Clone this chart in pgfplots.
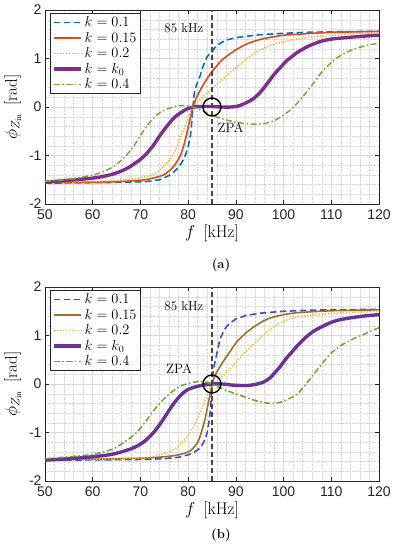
\documentclass[border=0pt]{standalone}
\usepackage{fontspec}
\usepackage{pgfplots}
\pgfplotsset{compat=1.18}
\newfontfamily\arial{Liberation Sans}

\definecolor{aBlue}{RGB}{0,114,189}
\definecolor{aRed}{RGB}{222,72,30}
\definecolor{aOrange}{RGB}{237,177,32}
\definecolor{aPurple}{RGB}{126,47,142}
\definecolor{aGreen}{RGB}{119,172,48}
\definecolor{bBlue}{RGB}{72,72,196}
\definecolor{bBrown}{RGB}{158,112,36}
\definecolor{bYellow}{RGB}{214,196,40}
\definecolor{bPurple}{RGB}{104,50,150}
\definecolor{bGreen}{RGB}{118,158,40}
\definecolor{axgray}{RGB}{38,38,38}

\pgfplotsset{
  myax/.style={
    scale only axis, width=334pt, height=194pt,
    xmin=50, xmax=120, ymin=-2, ymax=2,
    xtick={50,60,...,120}, xticklabels={50,60,70,80,90,100,110,120},
    ytick={-2,-1,0,1,2}, yticklabels={-2,-1,0,1,2},
    minor x tick num=4, minor y tick num=4,
    grid=both,
    major grid style={color=black!15, line width=0.5pt},
    minor grid style={color=black!16, densely dotted, line width=0.4pt},
    tick align=inside, major tick length=4pt, minor tick length=0pt,
    tick style={axgray, line width=0.5pt},
    axis line style={axgray, line width=0.6pt},
    ticklabel style={font=\arial\fontsize{14}{14}\selectfont, text=axgray},
    xticklabel style={yshift=-2pt},
    xlabel={$f$\ \,[kHz]},
    ylabel={$\phi_{Z_{\mathrm{in}}}$\ \,[rad]},
    label style={font=\fontsize{17}{17}\selectfont},
    xlabel style={at={(axis description cs:0.5,-0.152)}, anchor=center},
    ylabel style={at={(axis description cs:-0.097,0.5)}, anchor=center},
    legend style={at={(axis description cs:0.015,0.985)}, anchor=north west,
      draw=axgray, line width=0.5pt, fill=white,
      font=\fontsize{14}{16}\selectfont, row sep=0pt,
      inner xsep=2pt, inner ysep=1.5pt},
    legend cell align=left,
    legend image code/.code={\draw[#1] plot coordinates {(0cm,0cm) (0.95cm,0cm)};},
    every axis plot/.append style={line join=round},
  },
  dsh/.style={line width=1.6pt, dash pattern=on 6.5pt off 3.5pt},
  sol/.style={line width=1.6pt, smooth},
  dot/.style={line width=1.6pt, dash pattern=on 1.2pt off 1.8pt, smooth},
  thk/.style={line width=3.4pt, smooth},
  dd/.style={line width=1.5pt, dash pattern=on 6pt off 2.5pt on 1.5pt off 2.5pt, smooth},
  vline/.style={black!72, line width=1.5pt, dash pattern=on 5pt off 3pt, forget plot},
  zpa/.style={only marks, mark=o, mark size=9pt, black, line width=1.4pt, forget plot},
}

\begin{document}
\begin{tikzpicture}
\useasboundingbox (0pt,0pt) rectangle (395pt,-550pt);

% ---------------- (a) ----------------
\begin{axis}[myax, at={(45pt,-204pt)}, anchor=south west]
\addplot[aBlue, dsh] coordinates {
(50,-1.57) (55,-1.565) (60,-1.56) (65,-1.555) (70,-1.54) (72,-1.53) (74,-1.50)
(75,-1.46) (76,-1.41) (77,-1.34) (78,-1.24) (78.5,-1.17) (79,-1.08) (79.5,-0.97)
(80,-0.82) (80.5,-0.58) (80.75,-0.32) (81,0) (81.25,0.25) (81.5,0.38) (82,0.52)
(82.5,0.64) (83,0.8) (83.5,0.94) (84,1.04) (84.5,1.10) (85,1.13) (85.5,1.21)
(86,1.27) (87,1.33) (88,1.38) (90,1.43) (92.3,1.46) (95,1.49) (100,1.52)
(105,1.54) (110,1.55) (115,1.555) (120,1.56)};
\addplot[aRed, sol] coordinates {
(50,-1.56) (60,-1.55) (65,-1.54) (70,-1.51) (72,-1.48) (74,-1.43) (75,-1.39)
(76,-1.32) (77,-1.22) (78,-1.07) (78.5,-0.97) (79,-0.82) (79.5,-0.64) (80,-0.42)
(80.5,-0.21) (81,0) (81.5,0.14) (82,0.25) (83,0.43) (84,0.59) (85,0.73) (86,0.85)
(87,0.96) (88.8,1.10) (90,1.18) (92.3,1.30) (95,1.39) (98,1.45) (100,1.48)
(103,1.50) (106,1.52) (110,1.54) (115,1.55) (120,1.56)};
\addplot[aOrange, dot] coordinates {
(50,-1.55) (60,-1.54) (64,-1.52) (67.5,-1.49) (70,-1.46) (72,-1.41) (73,-1.37)
(74,-1.30) (75.2,-1.19) (76,-1.10) (77,-0.95) (77.5,-0.85) (78,-0.72) (78.7,-0.55)
(79.5,-0.36) (80.1,-0.18) (81,0) (82,0.10) (83,0.20) (85,0.38) (87,0.55)
(88.8,0.71) (90,0.81) (92.3,1.0) (94,1.11) (95.8,1.21) (97.5,1.28) (99.3,1.33)
(102.8,1.40) (106.3,1.45) (110,1.48) (113,1.50) (116,1.52) (120,1.53)};
\addplot[aPurple, thk] coordinates {
(50,-1.55) (55,-1.51) (60.5,-1.46) (64,-1.39) (66,-1.32) (67.5,-1.25) (69,-1.15)
(70,-1.08) (71,-0.99) (72,-0.88) (73,-0.75) (74,-0.60) (75.2,-0.44) (76,-0.34)
(77.3,-0.20) (78.7,-0.10) (80,-0.03) (81,0) (83,0.01) (85,0.01) (87,0.0)
(89,0.0) (90.5,0.02) (92,0.08) (93.5,0.16) (95,0.29) (96.4,0.46) (98,0.67)
(99.3,0.81) (100.6,0.95) (101.5,1.02) (102.8,1.12) (104.5,1.22) (106.3,1.30)
(108,1.36) (110,1.40) (113,1.43) (116.7,1.46) (120,1.48)};
\addplot[aGreen, dd] coordinates {
(50,-1.53) (54,-1.50) (57,-1.46) (60.5,-1.39) (62,-1.34) (64,-1.25) (65.5,-1.14)
(67,-1.00) (68.5,-0.82) (69.6,-0.65) (71,-0.44) (72,-0.31) (73,-0.20) (74,-0.12)
(75.2,-0.06) (76.5,-0.01) (77.5,0.02) (78.7,0.03) (80,0.02) (81,0) (83,-0.08)
(85,-0.17) (87,-0.24) (89,-0.29) (91,-0.33) (93,-0.35) (95,-0.35) (97,-0.32)
(99,-0.23) (100.5,-0.13) (102,-0.01) (103.5,0.15) (105,0.33) (106.5,0.52)
(108,0.72) (109.7,0.89) (111,1.0) (113,1.12) (115,1.20) (117,1.26) (120,1.32)};
\legend{$k=0.1$, $k=0.15$, $k=0.2$, $k=k_0$, $k=0.4$}
\addplot[vline] coordinates {(85,-2) (85,2)};
\addplot[zpa] coordinates {(85,0)};
\node[font=\fontsize{13}{13}\selectfont] at (axis cs:79.1,1.63) {85 kHz};
\node[font=\fontsize{13.5}{13.5}\selectfont] at (axis cs:88.9,-0.43) {ZPA};
\end{axis}
\node[font=\bfseries\fontsize{13}{13}\selectfont] at (221pt,-265pt) {(a)};

% ---------------- (b) ----------------
\begin{axis}[myax, at={(45pt,-481pt)}, anchor=south west]
\addplot[bBlue, dsh] coordinates {
(50,-1.57) (60,-1.565) (70,-1.555) (75,-1.54) (78,-1.51) (80,-1.46) (81,-1.42)
(82,-1.36) (82.8,-1.28) (83.5,-1.15) (84,-1.0) (84.3,-0.82) (84.6,-0.6)
(84.8,-0.35) (85,0) (85.2,0.22) (85.5,0.40) (86,0.62) (86.5,0.85) (87,1.0)
(87.5,1.1) (88,1.18) (89,1.27) (90,1.34) (92,1.41) (95,1.46) (100,1.50)
(105,1.52) (110,1.53) (120,1.54)};
\addplot[bBrown, sol] coordinates {
(50,-1.56) (60,-1.55) (70,-1.53) (75,-1.50) (78,-1.46) (80,-1.40) (81,-1.33)
(82,-1.20) (82.5,-1.08) (83,-0.92) (83.5,-0.74) (84,-0.50) (84.5,-0.26) (85,0)
(85.5,0.14) (86,0.25) (87,0.41) (88,0.56) (88.8,0.67) (90.2,0.87) (92.3,1.07)
(93.5,1.16) (95.8,1.30) (97.5,1.37) (100,1.43) (102.8,1.47) (106,1.49)
(110,1.51) (115,1.52) (120,1.53)};
\addplot[bYellow, dot] coordinates {
(50,-1.56) (60,-1.55) (65,-1.54) (71,-1.52) (74,-1.46) (76.6,-1.38) (78,-1.28)
(79.4,-1.14) (80.5,-0.98) (81.4,-0.83) (82.5,-0.6) (83.2,-0.42) (84,-0.24)
(84.6,-0.11) (85,0) (86,0.07) (87.4,0.17) (88.8,0.32) (90.9,0.54) (92.3,0.68)
(94.4,0.89) (95.8,1.01) (97.2,1.13) (99.3,1.26) (101,1.33) (102.8,1.38)
(106,1.42) (109.7,1.45) (115,1.48) (120,1.50)};
\addplot[bPurple, thk] coordinates {
(50,-1.57) (55,-1.54) (60,-1.50) (64,-1.45) (67,-1.37) (68.9,-1.30) (71,-1.17)
(73,-0.97) (74.5,-0.77) (75.9,-0.56) (77,-0.40) (78,-0.28) (79,-0.18) (80,-0.11)
(81.5,-0.06) (82.8,-0.03) (85,0) (87.4,0.0) (89,-0.02) (91,-0.03) (92.5,-0.03)
(94,-0.01) (95.8,0.04) (97.2,0.13) (98.5,0.27) (99.3,0.36) (100.5,0.52) (102,0.69)
(102.8,0.78) (104.5,0.95) (106.3,1.09) (108,1.18) (109.7,1.26) (112,1.33)
(116.7,1.40) (120,1.43)};
\addplot[bGreen, dd] coordinates {
(50,-1.54) (55,-1.50) (60,-1.45) (64,-1.35) (66,-1.24) (68,-1.1) (68.9,-1.03)
(70.5,-0.85) (71.7,-0.69) (73,-0.52) (74.5,-0.35) (76,-0.21) (77.3,-0.11)
(78.5,-0.04) (80,0.01) (82.1,0.05) (83.5,0.04) (85,0) (86.5,-0.07) (88.8,-0.16)
(90.5,-0.22) (92.3,-0.28) (94,-0.34) (95.8,-0.38) (97.5,-0.40) (99.3,-0.38)
(101,-0.31) (102.8,-0.21) (104.5,-0.03) (106.3,0.20) (108,0.41) (109.7,0.61)
(111.5,0.76) (113.2,0.86) (115,0.95) (116.7,1.02) (118.5,1.10) (120,1.16)};
\legend{$k=0.1$, $k=0.15$, $k=0.2$, $k=k_0$, $k=0.4$}
\addplot[vline] coordinates {(85,-2) (85,2)};
\addplot[zpa] coordinates {(85,0)};
\node[font=\fontsize{13}{13}\selectfont] at (axis cs:79.1,1.61) {85 kHz};
\node[font=\fontsize{13.5}{13.5}\selectfont] at (axis cs:78.1,0.31) {ZPA};
\end{axis}
\node[font=\bfseries\fontsize{13}{13}\selectfont] at (221pt,-535pt) {(b)};
\end{tikzpicture}
\end{document}
